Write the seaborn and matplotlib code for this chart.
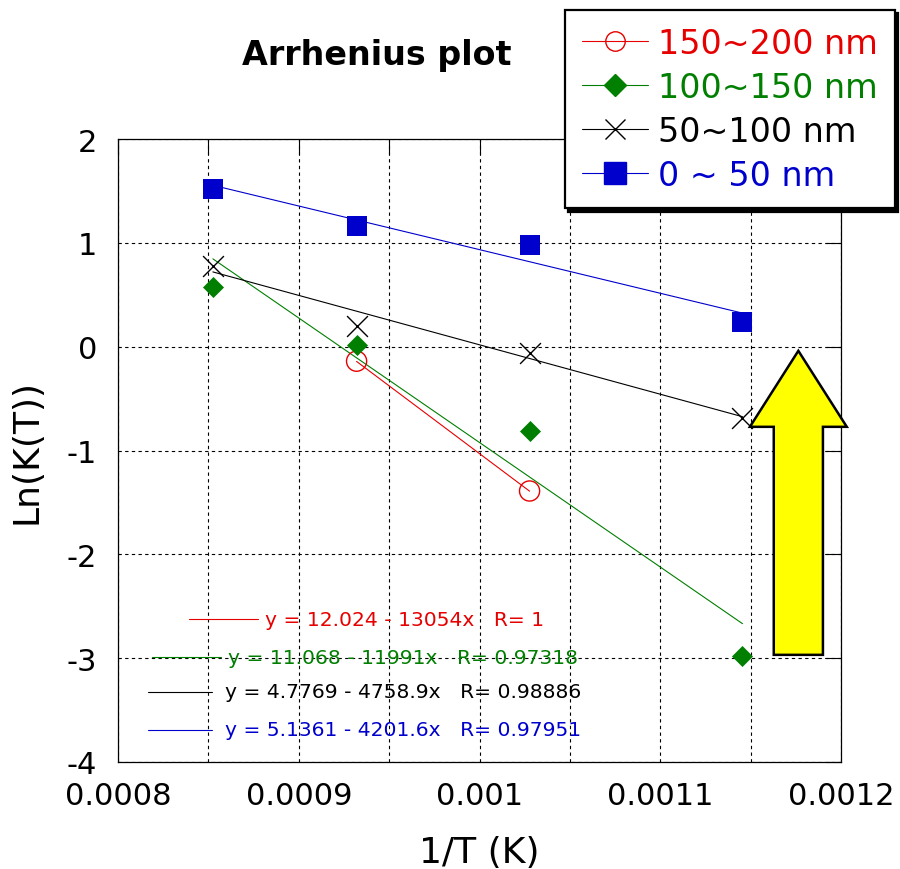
import numpy as np
import pandas as pd
import matplotlib
matplotlib.use("Agg")
import matplotlib.pyplot as plt
from matplotlib.lines import Line2D
from matplotlib.patches import FancyArrow
import seaborn as sns

# 1/T values (K^-1) for the four anneal temperatures
inv_T = [0.0008525, 0.000932, 0.0010277, 0.0011455]

# Ln(K(T)) for each particle size range
ln_k_150_200 = [np.nan, -0.14, -1.39, np.nan]
ln_k_100_150 = [0.57, 0.02, -0.81, -2.98]
ln_k_50_100 = [0.78, 0.20, -0.06, -0.69]
ln_k_0_50 = [1.52, 1.16, 0.98, 0.24]

labels = ["150~200 nm", "100~150 nm", "50~100 nm", "0 ~ 50 nm"]
colors = ["#e60000", "#007f00", "#000000", "#0000cc"]

# linear fits shown on the chart: y = a - b x
fit_a = [12.024, 11.068, 4.7769, 5.1361]
fit_b = [13054, 11991, 4758.9, 4201.6]
fit_r = [1, 0.97318, 0.98886, 0.97951]
fit_range = [(0.000932, 0.0010277), (0.0008525, 0.0011455),
             (0.0008525, 0.0011455), (0.0008525, 0.0011455)]

x_ticks = [0.0008, 0.0009, 0.001, 0.0011, 0.0012]
x_tick_labels = ["0.0008", "0.0009", "0.001", "0.0011", "0.0012"]
y_ticks = [-4, -3, -2, -1, 0, 1, 2]

sns.set_style("white")
plt.rcParams["font.family"] = ["DejaVu Sans"]
plt.rcParams["axes.unicode_minus"] = False
plt.rcParams["text.color"] = "black"
plt.rcParams["axes.labelcolor"] = "black"
plt.rcParams["xtick.color"] = "black"
plt.rcParams["ytick.color"] = "black"

fig = plt.figure(figsize=(9, 8.7), dpi=100)
ax = fig.add_axes([118 / 900, 107 / 870, 723 / 900, 623 / 870])

series = [ln_k_150_200, ln_k_100_150, ln_k_50_100, ln_k_0_50]
df = pd.DataFrame({
    "x": inv_T * 4,
    "y": sum(series, []),
    "size": np.repeat(labels, 4),
}).dropna()

marker_kw = {
    "150~200 nm": dict(marker="o", s=210, facecolor="none", linewidth=1),
    "100~150 nm": dict(marker="D", s=115, linewidth=0),
    "50~100 nm": dict(marker="x", s=225, linewidth=1),
    "0 ~ 50 nm": dict(marker="s", s=225, linewidth=0),
}

for lab, col, a, b, (x0, x1) in zip(labels, colors, fit_a, fit_b, fit_range):
    xs = np.array([x0, x1])
    sns.lineplot(x=xs, y=a - b * xs, color=col, linewidth=0.8, ax=ax, zorder=2)
    sub = df[df["size"] == lab]
    kw = dict(marker_kw[lab])
    if lab == "150~200 nm":
        kw["edgecolor"] = col
    else:
        kw["color"] = col
    sns.scatterplot(data=sub, x="x", y="y", ax=ax, zorder=3, legend=False, **kw)

ax.set_xlim(0.0008, 0.0012)
ax.set_ylim(-4, 2)
ax.set_xticks(x_ticks, x_tick_labels)
ax.set_xticks(np.arange(0.00085, 0.0012, 0.0001), minor=True)
ax.set_yticks(y_ticks)
ax.grid(True, which="both", color="black", linestyle=(0, (3, 3)), linewidth=0.8)
ax.tick_params(which="both", direction="in", length=11, width=0.8,
               top=True, right=True, colors="black")
ax.tick_params(axis="x", labelsize=22, pad=14)
ax.tick_params(axis="y", labelsize=22, pad=15)
for sp in ax.spines.values():
    sp.set_color("black")
    sp.set_linewidth(0.9)

ax.set_xlabel("1/T (K)", fontsize=26, labelpad=18)
ax.set_ylabel("Ln(K(T))", fontsize=26, labelpad=17)
fig.text(377 / 900, 1 - 55 / 870, "Arrhenius plot", fontsize=24, fontweight="bold",
         ha="center", va="center")

# fit equations with short line samples
eq_pos = [(189, 258, 265, 620), (152, 221, 228, 658), (148, 212, 225, 693), (148, 212, 225, 731)]
for col, a, b, r, (l0, l1, tx, ty) in zip(colors, fit_a, fit_b, fit_r, eq_pos):
    fig.add_artist(Line2D([l0 / 900, l1 / 900], [1 - ty / 870, 1 - ty / 870],
                          color=col, linewidth=0.8, transform=fig.transFigure))
    fig.text(tx / 900, 1 - ty / 870, f"y = {a:g} - {b:g}x   R= {r:g}",
             color=col, fontsize=14.6, ha="left", va="center")

# legend
handles = [
    Line2D([], [], color=colors[0], lw=0.8, marker="o", ms=14, mfc="none", mec=colors[0]),
    Line2D([], [], color=colors[1], lw=0.8, marker="D", ms=11, mfc=colors[1], mec=colors[1]),
    Line2D([], [], color=colors[2], lw=0.8, marker="x", ms=15, mew=1),
    Line2D([], [], color=colors[3], lw=0.8, marker="s", ms=16, mfc=colors[3], mec=colors[3]),
]
leg = ax.legend(handles, labels, loc="upper right", bbox_to_anchor=(895 / 900, 859 / 870),
                bbox_transform=fig.transFigure, fontsize=24, frameon=True, fancybox=False,
                edgecolor="black", framealpha=1, labelcolor="linecolor",
                shadow={"facecolor": "black", "edgecolor": "black", "alpha": 1, "ox": 2.3, "oy": -2.3},
                handlelength=2.0, handletextpad=0.3, labelspacing=0.33, borderpad=0.5,
                borderaxespad=0)
leg.get_frame().set_linewidth(1.6)
leg.set_zorder(10)

# yellow arrow
arrow = FancyArrow(0.941, 0.172, 0, 0.488, width=0.068, head_width=0.134, head_length=0.122,
                   length_includes_head=True, transform=ax.transAxes, clip_on=False,
                   facecolor="#ffff00", edgecolor="black", linewidth=1.8, zorder=8)
ax.add_patch(arrow)

fig.savefig("out.png", dpi=100)
